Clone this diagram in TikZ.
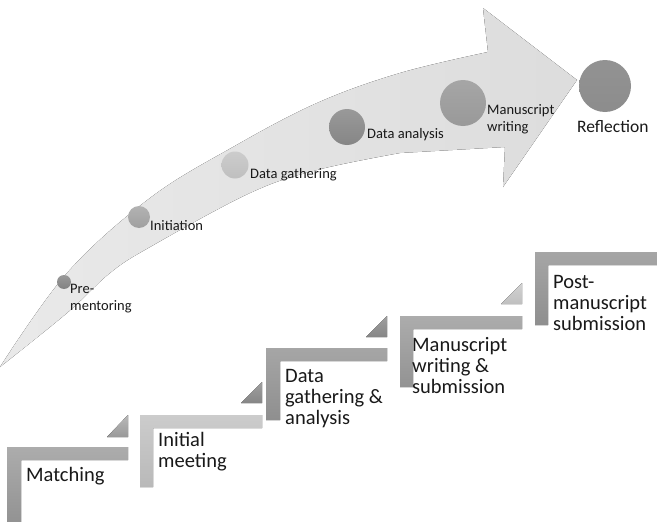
\documentclass[tikz,border=0pt]{standalone}
\usepackage{fontspec}
\setmainfont{Carlito}
\begin{document}
\begin{tikzpicture}[x=1pt,y=-1pt,
  lab/.style={font=\fontsize{14.5}{17}\selectfont, inner sep=0pt, anchor=west, align=left, text=black!90},
  biglab/.style={font=\fontsize{17.5}{20}\selectfont, inner sep=0pt, anchor=west, align=left, text=black!90},
  steplab/.style={font=\fontsize{20.5}{21}\selectfont, inner sep=0pt, anchor=west, align=left, text=black!90},
  dot/.style={circle, inner sep=0pt, minimum size=#1},
]
\useasboundingbox[fill=white] (0,0) rectangle (657,522);

% big curved arrow
\fill[left color=gray!17, right color=gray!27]
  plot[smooth, tension=0.6] coordinates {(0,367) (67,273) (150,198) (233,147) (317,103) (400,73) (488,52)}
  -- (483,8) -- (577,80) -- (503,187) -- (505,147)
  -- plot[smooth, tension=0.6] coordinates {(400,153) (317,170) (250,193) (150,247) (110,273) (67,313) (0,367)}
  -- cycle;

% milestones on the arrow
\node[dot=14, shade, top color=gray!80, bottom color=gray!98] (c1) at (64,282) {};
\node[dot=22, shade, top color=gray!60, bottom color=gray!75] (c2) at (139,217) {};
\node[dot=27, shade, top color=gray!40, bottom color=gray!50] (c3) at (235,165) {};
\node[dot=36, shade, top color=gray!80, bottom color=gray!95] (c4) at (347,127) {};
\node[dot=46, shade, top color=gray!70, bottom color=gray!80] (c5) at (463,103) {};
\node[dot=52, shade, top color=gray!85, bottom color=gray!90] (c6) at (605,86) {};

\node[lab] (l1) at (70,299) {Pre-\\mentoring};
\node[lab] (l2) at (150,226) {Initiation};
\node[lab] (l3) at (250,175) {Data gathering};
\node[lab] (l4) at (367,135) {Data analysis};
\node[lab] (l5) at (487,119) {Manuscript\\writing};
\node[biglab] (l6) at (577,127) {Reflection};

% steps
\fill[top color=gray!65, bottom color=gray!85] (7,447) -- (128,447) -- (128,460) -- (21,460) -- (21,522) -- (7,522) -- cycle;
\fill[top color=gray!55, bottom color=gray!80] (107,437) -- (128,437) -- (128,415) -- cycle;

\fill[top color=gray!40, bottom color=gray!55] (140,415) -- (262,415) -- (262,428) -- (153,428) -- (153,487) -- (140,487) -- cycle;
\fill[top color=gray!75, bottom color=gray!95] (241,403) -- (262,403) -- (262,382) -- cycle;

\fill[top color=gray!70, bottom color=gray!88] (266,348) -- (387,348) -- (387,361) -- (280,361) -- (280,420) -- (266,420) -- cycle;
\fill[top color=gray!75, bottom color=gray!95] (366,337) -- (387,337) -- (387,316) -- cycle;

\fill[top color=gray!65, bottom color=gray!85] (400,316) -- (522,316) -- (522,329) -- (413,329) -- (413,387) -- (400,387) -- cycle;
\fill[top color=gray!35, bottom color=gray!50] (501,304) -- (522,304) -- (522,283) -- cycle;

\fill[top color=gray!70, bottom color=gray!88] (535,252) -- (657,252) -- (657,265) -- (548,265) -- (548,325) -- (535,325) -- cycle;

\node[steplab] (s1) at (26,476) {Matching};
\node[steplab] (s2) at (158,452) {Initial\\meeting};
\node[steplab] (s3) at (285,399) {Data\\gathering \&\\analysis};
\node[steplab] (s4) at (412,366) {Manuscript\\writing \&\\submission};
\node[steplab] (s5) at (553,303) {Post-\\manuscript\\submission};
\end{tikzpicture}
\end{document}
